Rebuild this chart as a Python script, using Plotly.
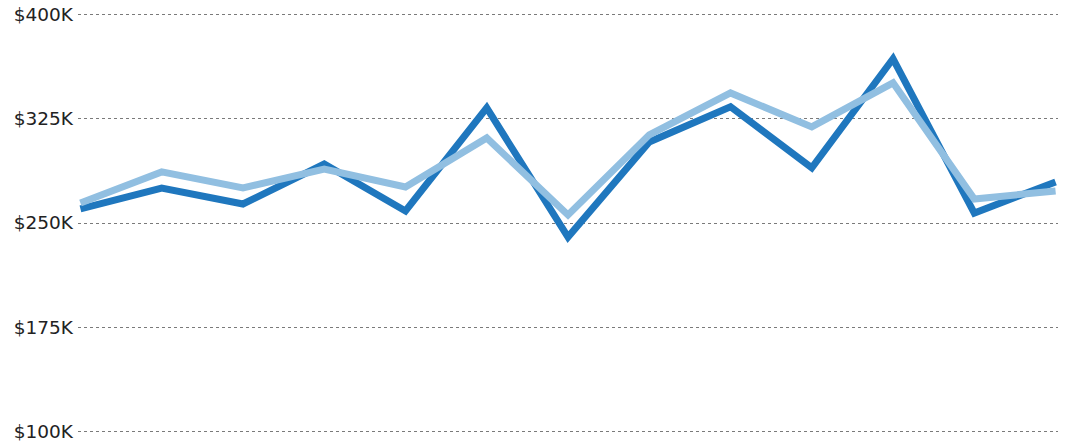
import plotly.graph_objects as go

periods = list(range(13))
series_dark = [260.1, 275.2, 263.7, 292.5, 258.7, 332.9, 239.9, 308.4, 333.7, 289.7, 368.3, 257.2, 279.6]
series_light = [264.4, 286.8, 275.2, 288.9, 276.0, 311.3, 255.8, 313.5, 343.7, 319.2, 351.0, 267.3, 273.1]
tick_values = [100, 175, 250, 325, 400]
tick_labels = ["$100K", "$175K", "$250K", "$325K", "$400K"]

fig = go.Figure()
fig.add_trace(go.Scatter(x=periods, y=series_dark, mode="lines",
                         line=dict(color="#1f77be", width=7), hoverinfo="skip"))
fig.add_trace(go.Scatter(x=periods, y=series_light, mode="lines",
                         line=dict(color="#91bfe1", width=7), hoverinfo="skip"))

fig.update_layout(
    width=1065, height=443,
    margin=dict(l=78, r=7, t=12, b=9, autoexpand=False),
    paper_bgcolor="white", plot_bgcolor="white",
    showlegend=False,
    font=dict(family="DejaVu Sans", size=18.5, color="#222222"),
)
fig.update_xaxes(range=[-0.03, 12.03], showgrid=False, showticklabels=False,
                 zeroline=False, showline=False, fixedrange=True, automargin=False)
fig.update_yaxes(range=[98, 402], tickvals=tick_values, ticktext=tick_labels,
                 showgrid=True, gridcolor="#7a7a7a", gridwidth=1, griddash="dot",
                 zeroline=False, showline=False, ticks="", ticklabelstandoff=4,
                 automargin=False, ticklabeloverflow="allow", fixedrange=True,
                 tickfont=dict(family="DejaVu Sans", size=18.5, color="#222222"))

fig.write_html("out.html", config={"displayModeBar": False, "staticPlot": True},
               post_script="document.body.style.margin='0';")
